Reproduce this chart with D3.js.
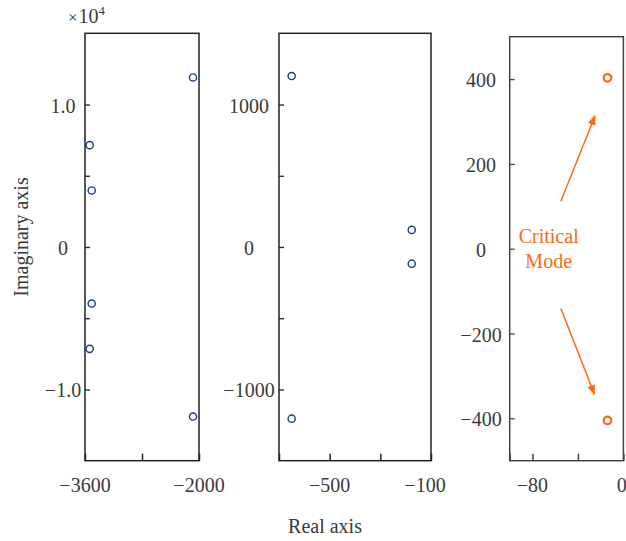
<!DOCTYPE html>
<html>
<head>
<meta charset="utf-8">
<script src="https://cdn.jsdelivr.net/npm/d3@7"></script>
<style>
  html, body { margin: 0; padding: 0; background: #fff; }
  svg { display: block; font-family: "Liberation Serif", "Times New Roman", serif; }
</style>
</head>
<body>
<svg id="chart" width="626" height="541"></svg>
<script>
// Eigenvalues (real, imaginary) split into three zoom windows
const fastRe = [-3534, -3506, -2084, -3506, -3534, -2084];
const fastIm = [7150, 3970, 11900, -3970, -7150, -11900];

const midRe = [-650, -176, -176, -650];
const midIm = [1200, 120, -117, -1205];

const criticalRe = [-14, -14];
const criticalIm = [403, -405];

// Axis ticks and labels for each window
const fastXTicks = [-3600, -2800, -2000];
const fastXLabels = [-3600, -2000];
const fastYTicks = [-10000, -5000, 0, 5000, 10000];
const fastYLabels = [-10000, 0, 10000];

const midXTicks = [-700, -500, -300, -100];
const midXLabels = [-500, -100];
const midYTicks = [-1000, -500, 0, 500, 1000];
const midYLabels = [-1000, 0, 1000];

const critXTicks = [-100, -80, -40, 0];
const critXLabels = [-80, 0];
const critYTicks = [-400, -200, 0, 200, 400];
const critYLabels = [-400, -200, 0, 200, 400];

const svg = d3.select("#chart");
const minus = s => String(s).replace("-", "\u2212");

const panels = [
  {
    re: fastRe, im: fastIm,
    xDomain: [-3600, -2000], yDomain: [-15000, 15000],
    xRange: [85, 199], yRange: [460.7, 33.3],
    xTicks: fastXTicks, xLabels: fastXLabels, yTicks: fastYTicks, yLabels: fastYLabels,
    yFmt: v => v === 0 ? "0" : minus((v / 1e4).toFixed(1)),
    xShift: () => 0,
    labelX: 63, color: "#1b3c7e", r: 3.6, sw: 1.4, frame: "#222"
  },
  {
    re: midRe, im: midIm,
    xDomain: [-700, -100], yDomain: [-1500, 1500],
    xRange: [279, 431], yRange: [460.7, 33.3],
    xTicks: midXTicks, xLabels: midXLabels, yTicks: midYTicks, yLabels: midYLabels,
    yFmt: v => minus(v),
    // keep the right-hand label clear of the next window
    xShift: d => d === -100 ? -6 : 0,
    labelX: 249, color: "#1b3c7e", r: 3.6, sw: 1.4, frame: "#222"
  },
  {
    re: criticalRe, im: criticalIm,
    xDomain: [-100, 0], yDomain: [-500, 500],
    xRange: [509.7, 623.4], yRange: [460.7, 36.7],
    xTicks: critXTicks, xLabels: critXLabels, yTicks: critYTicks, yLabels: critYLabels,
    yFmt: v => minus(v),
    // pull the last label inside the page edge
    xShift: d => d === 0 ? -1.6 : 0,
    labelX: 481, color: "#ff6a0d", r: 3.8, sw: 2.3, frame: "#444"
  }
];

panels.forEach(p => {
  const x = d3.scaleLinear().domain(p.xDomain).range(p.xRange);
  const y = d3.scaleLinear().domain(p.yDomain).range(p.yRange);
  const g = svg.append("g");

  // inward tick marks on the left and bottom edges
  g.append("g")
    .attr("transform", `translate(${p.xRange[0]},0)`)
    .call(d3.axisLeft(y).tickValues(p.yTicks).tickSize(-5).tickSizeOuter(0).tickFormat(""))
    .call(a => a.select(".domain").remove())
    .call(a => a.selectAll("line").attr("stroke", p.frame).attr("stroke-width", 1.3));
  g.append("g")
    .attr("transform", `translate(0,${p.yRange[0]})`)
    .call(d3.axisBottom(x).tickValues(p.xTicks).tickSize(-7).tickSizeOuter(0).tickFormat(""))
    .call(a => a.select(".domain").remove())
    .call(a => a.selectAll("line").attr("stroke", p.frame).attr("stroke-width", 1.5));

  // frame
  g.append("rect")
    .attr("x", p.xRange[0]).attr("y", p.yRange[1])
    .attr("width", p.xRange[1] - p.xRange[0])
    .attr("height", p.yRange[0] - p.yRange[1])
    .attr("fill", "none").attr("stroke", p.frame).attr("stroke-width", 1.5);

  // tick labels
  g.selectAll("text.ylab").data(p.yLabels).join("text")
    .attr("class", "ylab")
    .attr("x", p.labelX).attr("y", d => y(d) + 8)
    .attr("text-anchor", "middle")
    .attr("font-size", 20).attr("fill", "#3a3a3a")
    .text(p.yFmt);
  g.selectAll("text.xlab").data(p.xLabels).join("text")
    .attr("class", "xlab")
    .attr("x", d => x(d) + p.xShift(d)).attr("y", 492)
    .attr("text-anchor", "middle")
    .attr("font-size", 20).attr("fill", "#3a3a3a")
    .text(d => minus(d));

  // eigenvalue markers
  g.selectAll("circle").data(p.re.map((r, i) => [r, p.im[i]])).join("circle")
    .attr("cx", d => x(d[0])).attr("cy", d => y(d[1]))
    .attr("r", p.r)
    .attr("fill", "none").attr("stroke", p.color).attr("stroke-width", p.sw);

  p.x = x; p.y = y;
});

// ×10^4 exponent above the first window
const expo = svg.append("text").attr("x", 68).attr("y", 23).attr("font-size", 20).attr("fill", "#3a3a3a");
expo.append("tspan").text("\u00d7").attr("font-size", 17);
expo.append("tspan").text("10").attr("dx", 1);
expo.append("tspan").text("4").attr("font-size", 13).attr("dy", -8);

// annotation for the critical mode
const crit = panels[2];
const orange = "#ff6a0d";
svg.append("defs").append("marker")
  .attr("id", "head").attr("viewBox", "0 0 10 10")
  .attr("refX", 9).attr("refY", 5)
  .attr("markerWidth", 10).attr("markerHeight", 10)
  .attr("markerUnits", "userSpaceOnUse")
  .attr("orient", "auto")
  .append("path").attr("d", "M0,1 L10,5 L0,9 Z").attr("fill", orange);

const arrows = [
  { from: [-55, 112], to: [-25, 313] },
  { from: [-55, -141], to: [-25.5, -343] }
];
svg.selectAll("line.arrow").data(arrows).join("line")
  .attr("class", "arrow")
  .attr("x1", d => crit.x(d.from[0])).attr("y1", d => crit.y(d.from[1]))
  .attr("x2", d => crit.x(d.to[0])).attr("y2", d => crit.y(d.to[1]))
  .attr("stroke", orange).attr("stroke-width", 1.5)
  .attr("marker-end", "url(#head)");

svg.append("text")
  .attr("x", crit.x(-65.7)).attr("y", crit.y(14))
  .attr("text-anchor", "middle").attr("font-size", 20).attr("fill", orange)
  .text("Critical");
svg.append("text")
  .attr("x", crit.x(-65.7)).attr("y", crit.y(-46))
  .attr("text-anchor", "middle").attr("font-size", 20).attr("fill", orange)
  .text("Mode");

// axis titles
svg.append("text")
  .attr("x", 325).attr("y", 533)
  .attr("text-anchor", "middle").attr("font-size", 20).attr("fill", "#3a3a3a")
  .text("Real axis");
svg.append("text")
  .attr("transform", "translate(27.5,237) rotate(-90)")
  .attr("text-anchor", "middle").attr("font-size", 20).attr("fill", "#3a3a3a")
  .text("Imaginary axis");
</script>
</body>
</html>
